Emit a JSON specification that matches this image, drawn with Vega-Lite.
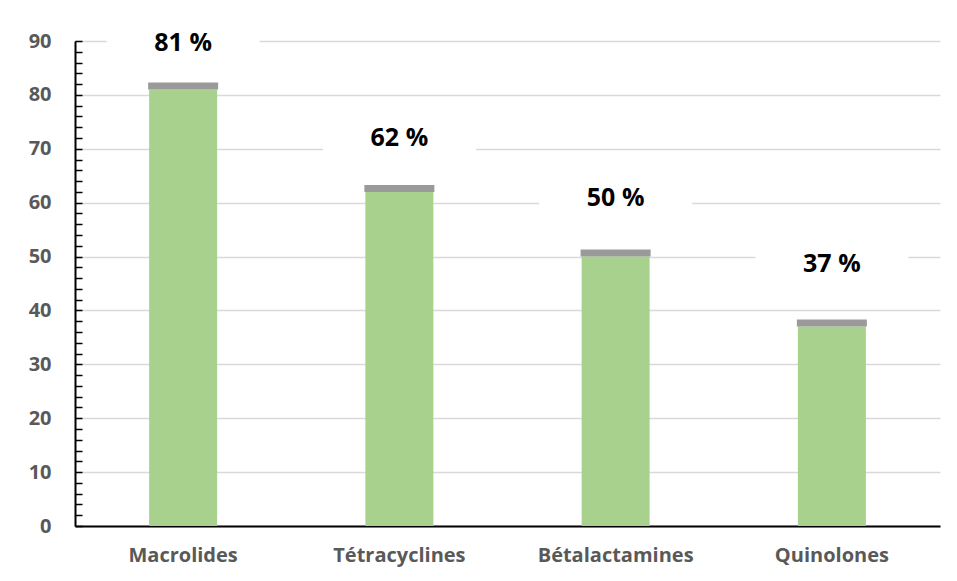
{
  "$schema": "https://vega.github.io/schema/vega-lite/v6.json",
  "width": 865,
  "height": 485,
  "autosize": {"type": "none"},
  "padding": {"left": 75, "top": 41, "right": 17, "bottom": 55},
  "background": "white",
  "config": {"view": {"stroke": null}, "font": "Open Sans"},
  "data": {
    "values": [
      {"classe": "Macrolides", "pct": 81, "label": "81 %"},
      {"classe": "Tétracyclines", "pct": 62, "label": "62 %"},
      {"classe": "Bétalactamines", "pct": 50, "label": "50 %"},
      {"classe": "Quinolones", "pct": 37, "label": "37 %"}
    ]
  },
  "layer": [
    {
      "layer": [
        {
          "mark": {"type": "bar", "color": "#a9d18e", "width": 68},
          "encoding": {
            "x": {
              "field": "classe", "type": "nominal", "sort": null,
              "scale": {"paddingInner": 0, "paddingOuter": 0},
              "axis": {
                "title": null, "labelAngle": 0, "ticks": false,
                "domainColor": "black", "domainWidth": 2,
                "labelColor": "#595959", "labelFontWeight": "bold",
                "labelFontSize": 20, "labelPadding": 19
              }
            },
            "y": {
              "field": "pct", "type": "quantitative",
              "scale": {"domain": [0, 90], "nice": false},
              "axis": {
                "title": null, "orient": "left",
                "values": [0, 10, 20, 30, 40, 50, 60, 70, 80, 90],
                "domainColor": "black", "domainWidth": 2,
                "ticks": false,
                "labelPadding": 24,
                "labelColor": "#595959", "labelFontWeight": "bold",
                "labelFontSize": 20,
                "grid": true, "gridColor": "#d9d9d9", "gridWidth": 1.3
              }
            }
          }
        },
        {
          "mark": {"type": "tick", "color": "#8f8f8f", "thickness": 7, "size": 70, "yOffset": -3.5, "opacity": 0.9},
          "encoding": {
            "x": {"field": "classe", "type": "nominal", "sort": null},
            "y": {
              "field": "pct", "type": "quantitative",
              "axis": {
                "title": null, "orient": "right", "offset": -865,
                "values": [0, 2, 4, 6, 8, 10, 12, 14, 16, 18, 20, 22, 24, 26, 28, 30, 32, 34, 36, 38, 40, 42, 44, 46, 48, 50, 52, 54, 56, 58, 60, 62, 64, 66, 68, 70, 72, 74, 76, 78, 80, 82, 84, 86, 88, 90],
                "labels": false, "grid": false, "domain": false,
                "tickColor": "black", "tickWidth": 1.5, "tickSize": 7
              }
            }
          }
        }
      ],
      "resolve": {"axis": {"y": "independent"}}
    },
    {
      "layer": [
        {
          "mark": {"type": "tick", "color": "white", "thickness": 40, "size": 153, "opacity": 1},
          "encoding": {
            "x": {"field": "classe", "type": "nominal", "sort": null},
            "y": {"field": "pct", "type": "quantitative", "scale": {"domain": [-15.3, 81.4], "nice": false, "zero": false}, "axis": null}
          }
        },
        {
          "mark": {"type": "text", "fontSize": 25, "fontWeight": "bold", "color": "black", "baseline": "middle"},
          "encoding": {
            "x": {"field": "classe", "type": "nominal", "sort": null},
            "y": {"field": "pct", "type": "quantitative", "axis": null},
            "text": {"field": "label"}
          }
        }
      ]
    }
  ],
  "resolve": {"scale": {"y": "independent"}}
}
